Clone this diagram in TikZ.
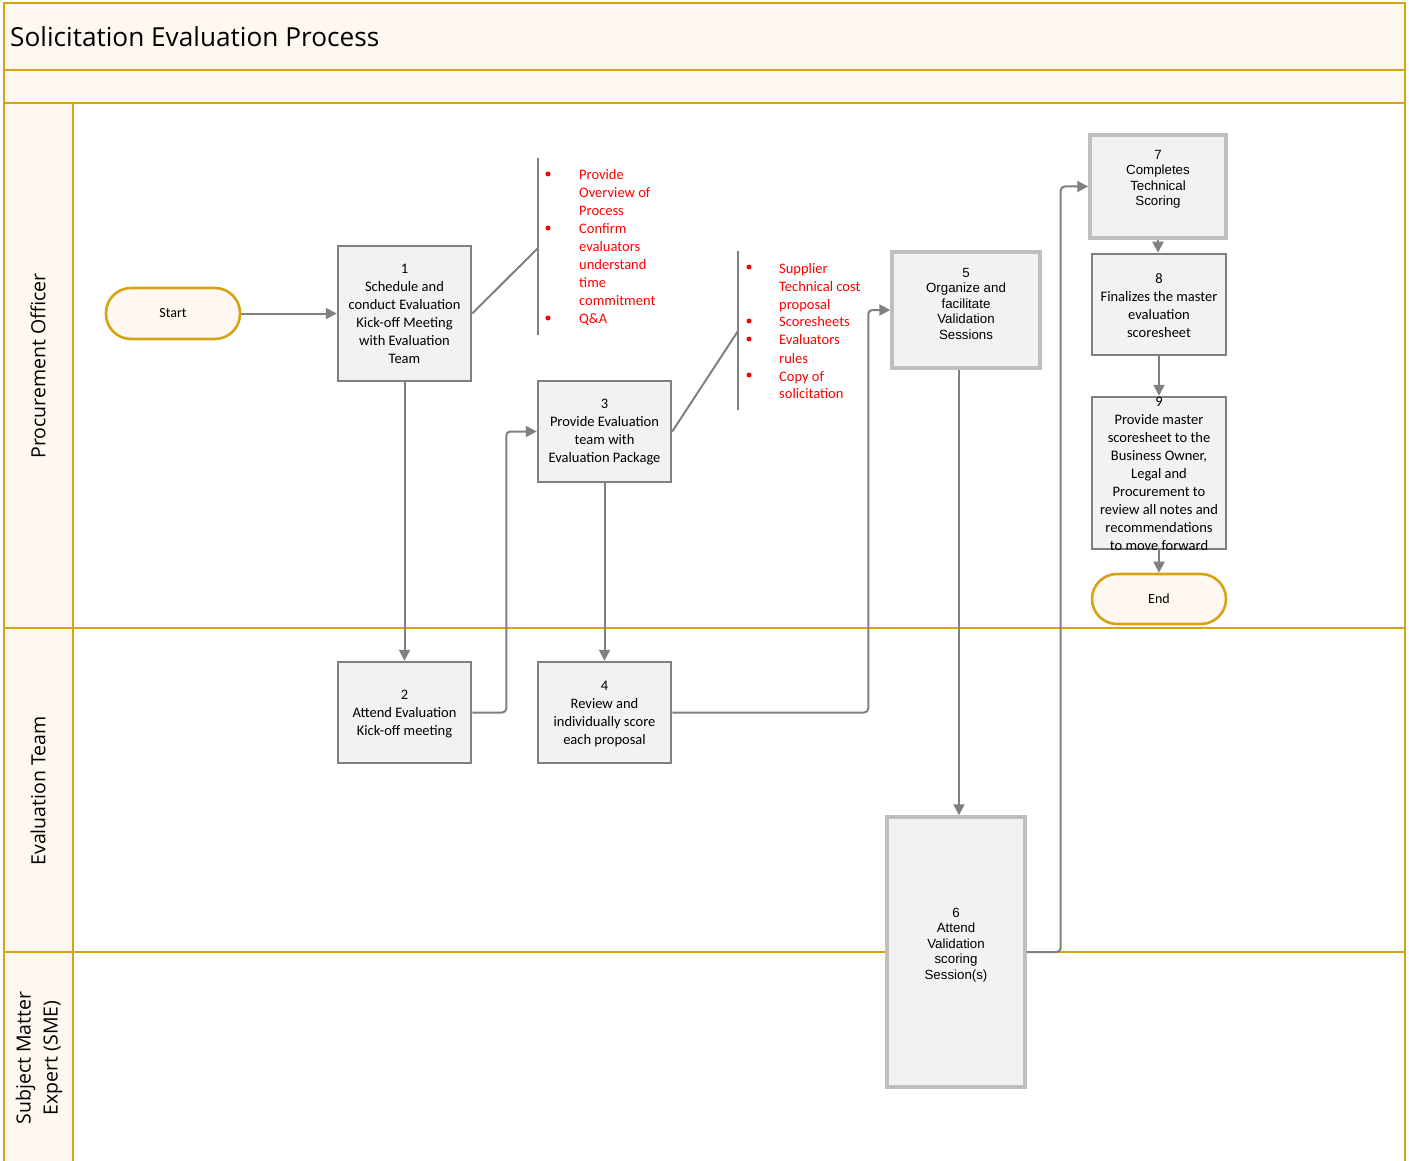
\documentclass[tikz,border=0pt]{standalone}
\usepackage{fontspec}
\setmainfont{Carlito}
\newfontfamily\osans{Open Sans}
\newfontfamily\arialf{Liberation Sans}
\usetikzlibrary{arrows.meta}
\definecolor{gold}{RGB}{214,163,20}
\definecolor{cream}{RGB}{254,248,240}
\definecolor{boxfill}{RGB}{242,242,242}
\definecolor{conn}{RGB}{128,128,128}
\definecolor{lightb}{RGB}{191,191,191}
\definecolor{notered}{RGB}{255,0,0}
\begin{document}
\begin{tikzpicture}[x=1pt,y=-1pt,
  laneline/.style={draw=gold, line width=2.6pt},
  cbox/.style={draw=conn, fill=boxfill, line width=2.5pt, inner sep=0pt, rectangle},
  abox/.style={draw=lightb, fill=boxfill, line width=3.4pt, inner sep=0pt, rectangle},
  ctext/.style={align=center, inner sep=0pt, font=\fontsize{14.5}{18}\selectfont},
  atext/.style={align=center, inner sep=0pt, font=\arialf\fontsize{13.3}{15.5}\selectfont},
  term/.style={draw=gold, fill=cream, line width=2.6pt, rounded corners=25pt, inner sep=0pt, font=\fontsize{14}{17}\selectfont},
  flow/.style={draw=conn, line width=2pt, -{Triangle[length=11pt,width=11pt]}, rounded corners=4pt},
  plain/.style={draw=conn, line width=2pt},
  notetext/.style={text=notered, align=left, inner sep=0pt, font=\fontsize{14.5}{18}\selectfont},
  bullet/.style={fill=notered, draw=none},
  lanelabel/.style={rotate=90, align=center, inner sep=0pt, font=\osans\fontsize{19.5}{27}\selectfont}
]
\useasboundingbox (0,0) rectangle (1409,1161);
\clip (0,0) rectangle (1409,1161);
% background bands
\fill[cream] (4,3) rectangle (1405,103);
\fill[cream] (4,103) rectangle (73,1180);
% frame
\draw[laneline] (4,1180) -- (4,3) -- (1405,3) -- (1405,1180);
\draw[laneline] (4,70) -- (1405,70);
\draw[laneline] (4,103) -- (1405,103);
\draw[laneline] (4,628) -- (1405,628);
\draw[laneline] (4,952) -- (1405,952);
\draw[laneline] (73,103) -- (73,1180);
% title and lane labels
\node[anchor=west, inner sep=0pt, font=\osans\fontsize{26.2}{30}\selectfont] (title) at (10,36.5) {Solicitation Evaluation Process};
\node[lanelabel] (lane1) at (38,366) {Procurement Officer};
\node[lanelabel] (lane2) at (38,791) {Evaluation Team};
\node[lanelabel] (lane3) at (39,1058) {Subject Matter\\Expert (SME)};

% terminals
\node[term, minimum width=134pt, minimum height=51pt] (start) at (173,313.5) {Start};
\node[term, minimum width=134pt, minimum height=50pt] (end) at (1159,599) {End};

% boxes
\node[cbox, minimum width=133pt, minimum height=135pt] (b1) at (404.5,313.5) {};
\node[ctext] (t1) at (404.5,314) {1\\Schedule and\\conduct Evaluation\\Kick-off Meeting\\with Evaluation\\Team};
\node[cbox, minimum width=133pt, minimum height=101pt] (b2) at (404.5,712.5) {};
\node[ctext] (t2) at (404.5,714) {2\\Attend Evaluation\\Kick-off meeting};
\node[cbox, minimum width=133pt, minimum height=101pt] (b3) at (604.5,431.5) {};
\node[ctext] (t3) at (604.5,432.5) {3\\Provide Evaluation\\team with\\Evaluation Package};
\node[cbox, minimum width=133pt, minimum height=101pt] (b4) at (604.5,712.5) {};
\node[ctext] (t4) at (604.5,714) {4\\Review and\\individually score\\each proposal};
\node[abox, minimum width=148pt, minimum height=116pt] (b5) at (966,310) {};
\node[atext] (t5) at (966,303.5) {5\\Organize and\\facilitate\\Validation\\Sessions};
\node[abox, minimum width=138pt, minimum height=270pt] (b6) at (956,952) {};
\node[atext] (t6) at (956,945) {6\\Attend\\Validation\\scoring\\Session(s)};
\draw[conn!70, line width=1.2pt] (1090,239.8) -- (1226,239.8);
\node[abox, minimum width=136pt, minimum height=103pt] (b7) at (1158,186.5) {};
\node[atext] (t7) at (1158,179.5) {7\\Completes\\Technical\\Scoring};
\node[cbox, minimum width=134pt, minimum height=101pt] (b8) at (1159,304.5) {};
\node[ctext] (t8) at (1159,306) {8\\Finalizes the master\\evaluation\\scoresheet};
\node[cbox, minimum width=134pt, minimum height=152pt] (b9) at (1159,473) {};
\node[ctext] (t9) at (1159,474) {9\\Provide master\\scoresheet to the\\Business Owner,\\Legal and\\Procurement to\\review all notes and\\recommendations\\to move forward};

% annotations
\coordinate (n1top) at (538,158);
\coordinate (n1bot) at (538,335);
\coordinate (n1hook) at (538,248);
\draw[plain] (n1top) -- (n1bot);
\draw[plain] (b1.east) -- (n1hook);
\fill[bullet] (548,174) circle (2.5pt);
\fill[bullet] (548,228) circle (2.5pt);
\fill[bullet] (548,318) circle (2.5pt);
\node[notetext, anchor=base west] (note1) at (579,180) {\begin{tabular}[t]{@{}l@{}}Provide\\Overview of\\Process\\Confirm\\evaluators\\understand\\time\\commitment\\Q\&A\end{tabular}};

\coordinate (n2top) at (738,251);
\coordinate (n2bot) at (738,410);
\coordinate (n2hook) at (738,331);
\draw[plain] (n2top) -- (n2bot);
\draw[plain] (b3.east) -- (n2hook);
\fill[bullet] (749,267) circle (2.5pt);
\fill[bullet] (749,321) circle (2.5pt);
\fill[bullet] (749,339) circle (2.5pt);
\fill[bullet] (749,375) circle (2.5pt);
\node[notetext, anchor=base west] (note2) at (779,273) {\begin{tabular}[t]{@{}l@{}}Supplier\\Technical cost\\proposal\\Scoresheets\\Evaluators\\rules\\Copy of\\solicitation\end{tabular}};

% connectors
\draw[flow] (start.east) -- (b1.west);
\draw[flow] (b1.south) -- (b2.north);
\draw[flow] (b2.east) -- ++(34,0) |- (b3.west);
\draw[flow] (b3.south) -- (b4.north);
\draw[flow] (b4.east) -- ++(196,0) |- (b5.west);
\draw[flow] ([xshift=-7pt]b5.south) -- ([xshift=3pt]b6.north);
\draw[flow] (b6.east) -- ++(34,0) |- (b7.west);
\draw[flow] (b7.south) -- (b7.south |- b8.north);
\draw[flow] (b8.south) -- (b9.north);
\draw[flow] (b9.south) -- (end.north);
\end{tikzpicture}
\end{document}
